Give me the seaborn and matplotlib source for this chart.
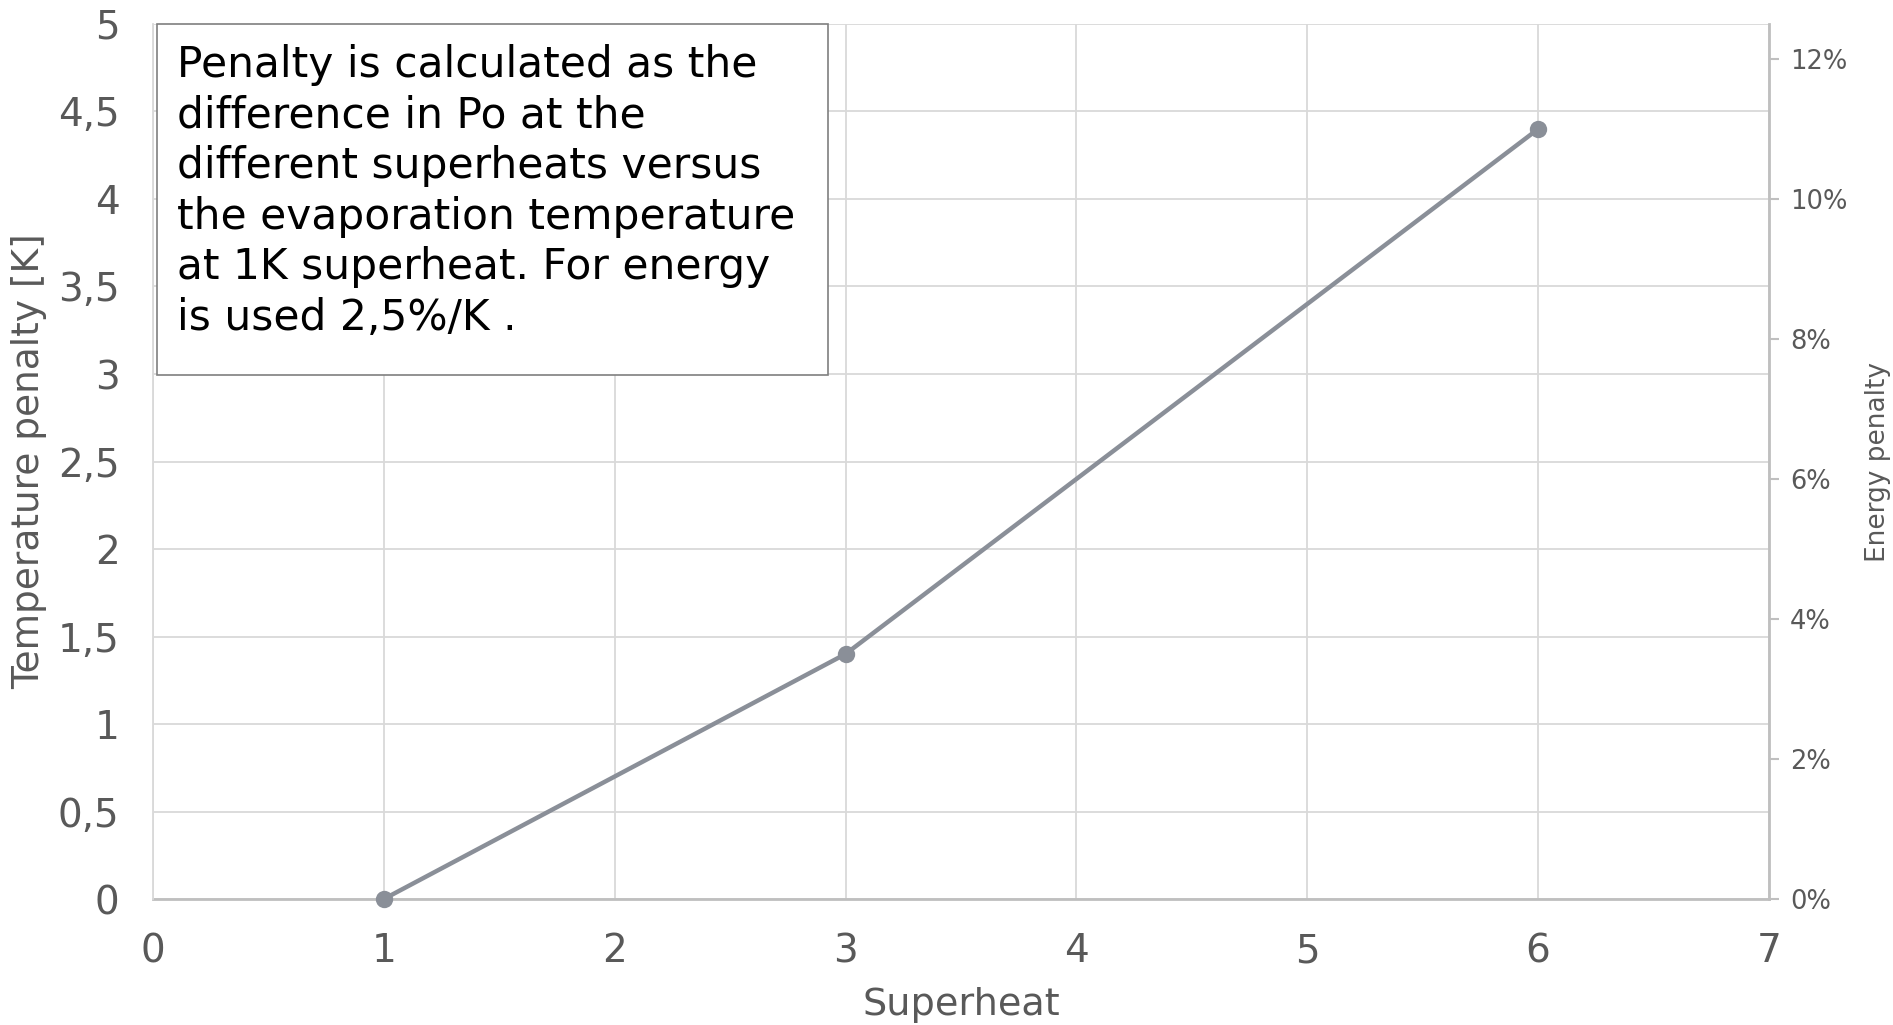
import matplotlib
matplotlib.use("Agg")
import matplotlib.pyplot as plt
from matplotlib.patches import Rectangle
from matplotlib.ticker import FuncFormatter
import seaborn as sns
import pandas as pd

# Data
superheat = [1, 3, 6]
temp_penalty = [0.0, 1.4, 4.4]
energy_per_K = 0.025  # 2.5 %/K

x_ticks = [0, 1, 2, 3, 4, 5, 6, 7]
y_ticks = [0, 0.5, 1, 1.5, 2, 2.5, 3, 3.5, 4, 4.5, 5]
energy_ticks = [0, 0.02, 0.04, 0.06, 0.08, 0.10, 0.12]

note = ("Penalty is calculated as the\n"
        "difference in Po at the\n"
        "different superheats versus\n"
        "the evaporation temperature\n"
        "at 1K superheat. For energy\n"
        "is used 2,5%/K .")

sns.set_style("white")
plt.rcParams['font.family'] = ['DejaVu Sans']

df = pd.DataFrame({"Superheat": superheat, "Temperature penalty": temp_penalty})

fig = plt.figure(figsize=(18.93, 10.25), dpi=100)
ax = fig.add_axes([0.0808, 0.1229, 0.8537, 0.8537])

line_col = "#8a8f98"
sns.lineplot(data=df, x="Superheat", y="Temperature penalty", ax=ax,
             color=line_col, linewidth=3.2, marker="o", markersize=12.5,
             markeredgewidth=0, zorder=5, clip_on=False)

ax.set_xlim(0, 7)
ax.set_ylim(0, 5)
ax.set_xticks(x_ticks)
ax.set_yticks(y_ticks)
ax.yaxis.set_major_formatter(FuncFormatter(lambda v, p: (f"{v:g}").replace(".", ",")))
ax.grid(True, color="#d9d9d9", linewidth=1.3)
ax.set_axisbelow(True)

lab_col = "#595959"
ax.tick_params(axis="both", length=0, labelsize=28, labelcolor=lab_col)
ax.tick_params(axis="x", pad=24)
ax.tick_params(axis="y", pad=24)
ax.set_xlabel("Superheat", fontsize=27.5, color=lab_col, labelpad=12)
ax.set_ylabel("Temperature penalty [K]", fontsize=27, color=lab_col, labelpad=8)

for s in ["top", "right"]:
    ax.spines[s].set_visible(False)
ax.spines["left"].set_color("#d9d9d9")
ax.spines["left"].set_linewidth(1.3)
ax.spines["bottom"].set_color("#bfbfbf")
ax.spines["bottom"].set_linewidth(2)
ax.spines["bottom"].set_zorder(1)

# Secondary axis: energy penalty
ax2 = ax.twinx()
ax2.set_ylim(0, 5 * energy_per_K)
ax2.set_yticks(energy_ticks)
ax2.yaxis.set_major_formatter(FuncFormatter(lambda v, p: f"{v*100:.0f}%"))
ax2.tick_params(axis="y", length=7, width=1.5, color="#bfbfbf",
                labelsize=18.5, labelcolor=lab_col, pad=8)
for s in ["top", "left", "bottom"]:
    ax2.spines[s].set_visible(False)
ax2.spines["right"].set_color("#bfbfbf")
ax2.spines["right"].set_linewidth(2)
ax2.set_ylabel("Energy penalty", fontsize=19, color=lab_col, labelpad=13)
ax2.grid(False)

# Note box
rect = Rectangle((0.0025, 0.599), 0.415, 0.401, transform=ax.transAxes,
                 facecolor="white", edgecolor="#7f7f7f", linewidth=1.2, zorder=6,
                 clip_on=False)
ax2.add_patch(rect)
ax2.text(0.0149, 0.977, note, transform=ax.transAxes, ha="left", va="top",
         fontsize=30.5, color="black", linespacing=1.26, zorder=7)

fig.savefig("out.png", dpi=100)
